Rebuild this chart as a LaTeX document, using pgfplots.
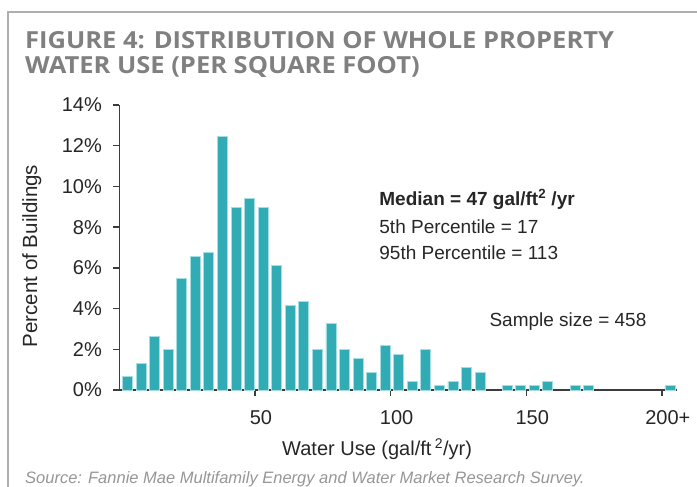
\documentclass[border=0pt]{standalone}
\usepackage{fontspec}
\setmainfont{Liberation Sans}
\newfontfamily\titlefont{Open Sans}
\usepackage{pgfplots}
\usepackage{pgfplotstable}
\pgfplotsset{compat=1.18}

\definecolor{barteal}{RGB}{49,172,181}
\definecolor{baredge}{RGB}{165,222,226}
\definecolor{axisgray}{RGB}{60,60,60}
\definecolor{titlegray}{RGB}{128,128,128}
\definecolor{srcgray}{RGB}{150,150,150}
\definecolor{framegray}{RGB}{175,175,175}

% percent of buildings per 5 gal/ft2/yr bin (458 buildings), empty bins left out
\pgfplotstableread{
x   y
3   0.66
8   1.31
13  2.62
18  1.97
23  5.46
28  6.55
33  6.77
38  12.45
43  8.95
48  9.39
53  8.95
58  6.11
63  4.15
68  4.37
73  1.97
78  3.28
83  1.97
88  1.53
93  0.87
98  2.18
103 1.75
108 0.44
113 1.97
118 0.22
123 0.44
128 1.09
133 0.87
143 0.22
148 0.22
153 0.22
158 0.44
168 0.22
173 0.22
203 0.22
}\waterdata

\begin{document}
\begin{tikzpicture}[x=1bp,y=1bp]
\useasboundingbox (0,0) rectangle (697,487);
% frame
\draw[framegray, line width=2bp] (8,-5) -- (8,475) -- (700,475);
% title
\node[anchor=base west, inner sep=0, text=titlegray, font=\titlefont\bfseries\fontsize{23.5bp}{25bp}\selectfont] at (25,438) {\scalebox{1.085}[1]{FIGURE 4: DISTRIBUTION OF WHOLE PROPERTY}};
\node[anchor=base west, inner sep=0, text=titlegray, font=\titlefont\bfseries\fontsize{23.5bp}{25bp}\selectfont] at (25,413) {\scalebox{1.085}[1]{WATER USE (PER SQUARE FOOT)}};

\begin{axis}[
    at={(119.4bp,97bp)}, anchor=south west,
    scale only axis, width=557.3bp, height=285bp,
    xmin=0, xmax=205.5, ymin=0, ymax=14,
    axis x line*=bottom, axis y line*=left,
    axis line style={-, draw=axisgray, line width=1.6bp},
    ybar, bar width=10bp,
    ytick={0,2,...,14},
    yticklabel={\pgfmathprintnumber{\tick}\%},
    xtick={50,100,150,200},
    xticklabels={50,100,150,200+},
    tick align=outside, major tick length=6bp,
    tick style={draw=axisgray, line width=1.4bp},
    ticklabel style={font=\fontsize{20bp}{24bp}\selectfont, text=black!85},
    xticklabel style={xshift=6bp, yshift=-11bp},
    yticklabel style={xshift=-8bp},
    /pgf/number format/assume math mode=true,
    clip=false,
]
\addplot[fill=barteal, draw=baredge, line width=0.8bp] table[x=x, y=y] {\waterdata};

\node[anchor=base west, inner sep=0, text=black!85, font=\bfseries\fontsize{19bp}{22bp}\selectfont] at (axis cs:95.8,9.04) {Median = 47 gal/ft\textsuperscript{2} /yr};
\node[anchor=base west, inner sep=0, text=black!85, font=\fontsize{19bp}{22bp}\selectfont] at (axis cs:95.8,7.70) {5th Percentile = 17};
\node[anchor=base west, inner sep=0, text=black!85, font=\fontsize{19bp}{22bp}\selectfont] at (axis cs:95.8,6.39) {95th Percentile = 113};
\node[anchor=base west, inner sep=0, text=black!85, font=\fontsize{19bp}{22bp}\selectfont] at (axis cs:136.4,3.14) {Sample size = 458};
\end{axis}

% axis titles
\node[anchor=base, rotate=90, inner sep=0, text=black!85, font=\fontsize{20.5bp}{24bp}\selectfont] at (37,231) {Percent of Buildings};
\node[anchor=base west, inner sep=0, text=black!85, font=\fontsize{20bp}{24bp}\selectfont] at (282,31) {Water Use (gal/ft\,\textsuperscript{2}/yr)};
% source
\node[anchor=base west, inner sep=0, text=srcgray, font=\itshape\fontsize{16.5bp}{18bp}\selectfont] at (25,3) {Source: Fannie Mae Multifamily Energy and Water Market Research Survey.};
\end{tikzpicture}
\end{document}
